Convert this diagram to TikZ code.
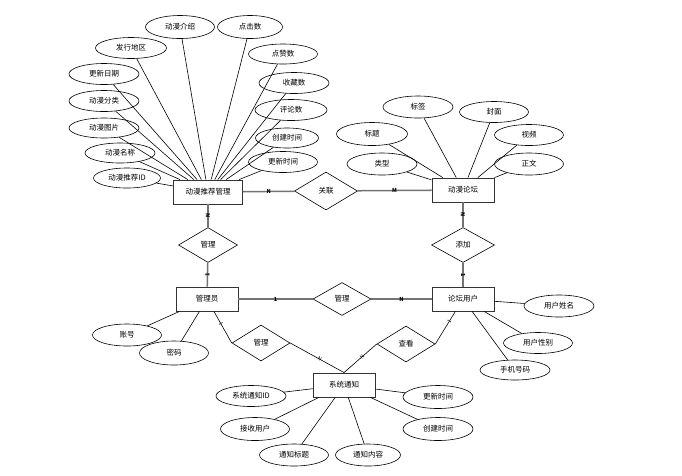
\documentclass[tikz,border=0pt]{standalone}
\usepackage{fontspec}
\setmainfont{Noto Sans CJK SC}
\usetikzlibrary{arrows,positioning,shapes}

\begin{document}
\begin{tikzpicture}[x=1pt,y=-1pt,thin]
\tikzstyle{every node}=[font=\fontsize{7.5}{9}\selectfont,inner sep=0pt]
\tikzstyle{entity}=[shape=rectangle,draw=black!80,line width=0.9pt,minimum width=62pt,minimum height=24pt]
\tikzstyle{rel}=[shape=diamond,draw,line width=0.6pt,minimum width=58pt,minimum height=36pt]
\tikzstyle{attr}=[shape=ellipse,draw,line width=0.6pt,minimum width=70pt,minimum height=21pt]
\tikzstyle{card}=[font=\fontsize{5.5}{6}\selectfont\bfseries,sloped]
\tikzstyle{tick}=[font=\fontsize{5}{5}\selectfont,sloped]
\tikzstyle{link}=[draw=black!55,line width=1.5pt]
\tikzstyle{line}=[draw,line width=0.6pt]

\useasboundingbox (0,0) rectangle (682,475);

% entities
\node[entity,minimum width=69pt] (T) at (208,192) {动漫推荐管理};
\node[entity] (F) at (463,190) {动漫论坛};
\node[entity] (A) at (207,299) {管理员};
\node[entity] (U) at (463,299) {论坛用户};
\node[entity] (S) at (344,385) {系统通知};

% relations
\node[rel,minimum width=63pt,minimum height=38pt] (L) at (326,191) {关联};
\node[rel,minimum width=59pt,minimum height=35pt] (M1) [below of=T,node distance=53pt] {管理};
\node[rel,minimum width=63pt,minimum height=35pt] (J) [below of=F,node distance=55pt] {添加};
\node[rel,minimum height=33pt] (M2) at (342,299) {管理};
\node[rel] (M3) at (261,343) {管理};
\node[rel] (V) at (406,344) {查看};

% attributes of T
\node[attr,minimum width=69pt,minimum height=23pt] (t1) at (180,27) {动漫介绍};
\node[attr,minimum width=65pt,minimum height=23pt] (t2) at (250,27) {点击数};
\node[attr,minimum width=71pt] (t3) at (131,48) {发行地区};
\node[attr,minimum width=69pt,minimum height=20pt] (t4) at (283,54) {点赞数};
\node[attr] (t5) at (104,74) {更新日期};
\node[attr] (t6) at (294,83) {收藏数};
\node[attr] (t7) at (104,101) {动漫分类};
\node[attr,minimum width=72pt] (t8) at (291,110) {评论数};
\node[attr,minimum height=20pt] (t9) at (104,128) {动漫图片};
\node[attr,minimum width=63pt,minimum height=20pt] (t10) at (287,138) {创建时间};
\node[attr,minimum height=20pt] (t11) at (120,153) {动漫名称};
\node[attr,minimum width=69pt] (t12) at (283,162) {更新时间};
\node[attr,minimum width=67pt,minimum height=20pt] (t13) at (127,178) {动漫推荐ID};

% attributes of F
\node[attr,minimum height=22pt] (f1) at (418,107) {标签};
\node[attr,minimum width=69pt] (f2) at (494,112) {封面};
\node[attr,minimum width=71pt,minimum height=23pt] (f3) at (372,134) {标题};
\node[attr,minimum width=69pt] (f4) at (529,135) {视频};
\node[attr,minimum height=22pt] (f5) at (382,164) {类型};
\node[attr,minimum width=69pt,minimum height=22pt] (f6) at (529,164) {正文};

% attributes of U
\node[attr,minimum height=22pt] (u1) at (559,306) {用户姓名};
\node[attr,minimum width=69pt] (u2) at (538,343) {用户性别};
\node[attr,minimum height=20pt] (u3) at (515,370) {手机号码};

% attributes of A
\node[attr,minimum width=69pt,minimum height=22pt] (a1) at (127,335) {账号};
\node[attr,minimum width=69pt,minimum height=24pt] (a2) at (174,353) {密码};

% attributes of S
\node[attr] (s1) at (251,396) {系统通知ID};
\node[attr,minimum width=69pt,minimum height=23pt] (s2) at (255,429) {接收用户};
\node[attr,minimum width=69pt,minimum height=22pt] (s3) at (294,455) {通知标题};
\node[attr,minimum width=65pt,minimum height=22pt] (s4) at (368,455) {通知内容};
\node[attr,minimum height=23pt] (s5) at (438,397) {更新时间};
\node[attr,minimum height=23pt] (s6) at (438,429) {创建时间};

\path[line]
(t1) edge (T) (t2) edge (T) (t3) edge (T) (t4) edge (T)
(t5) edge (T) (t6) edge (T) (t7) edge (T) (t8) edge (T)
(t9) edge (T) (t10) edge (T) (t11) edge (T) (t12) edge (T)
(t13) edge (T)
(f1) edge (F) (f2) edge (F) (f3) edge (F)
(f4) edge (F) (f5) edge (F) (f6) edge (F)
(u1) edge (U) (u2) edge (U) (u3) edge (U)
(a1) edge (A) (a2) edge (A)
(s1) edge (S) (s2) edge (S) (s3) edge (S)
(s4) edge (S) (s5) edge (S) (s6) edge (S)
;

\path[link]
(T) edge node[card]{N} (L)
(L) edge node[card]{M} (F)
(T) edge node[card]{N} (M1)
(M1) edge node[card]{1} (A)
(F) edge node[card]{N} (J)
(J) edge node[card]{1} (U)
(A) edge node[card]{1} (M2)
(M2) edge node[card]{N} (U)
;

\path[line]
(A) edge node[tick,pos=0.4]{1} (M3.west)
(M3.east) edge node[tick,pos=0.55]{N} (S.north)
(U) edge node[tick,pos=0.3]{1} (V.east)
(V.west) edge node[tick,pos=0.45]{N} (S.north)
;
\end{tikzpicture}
\end{document}
